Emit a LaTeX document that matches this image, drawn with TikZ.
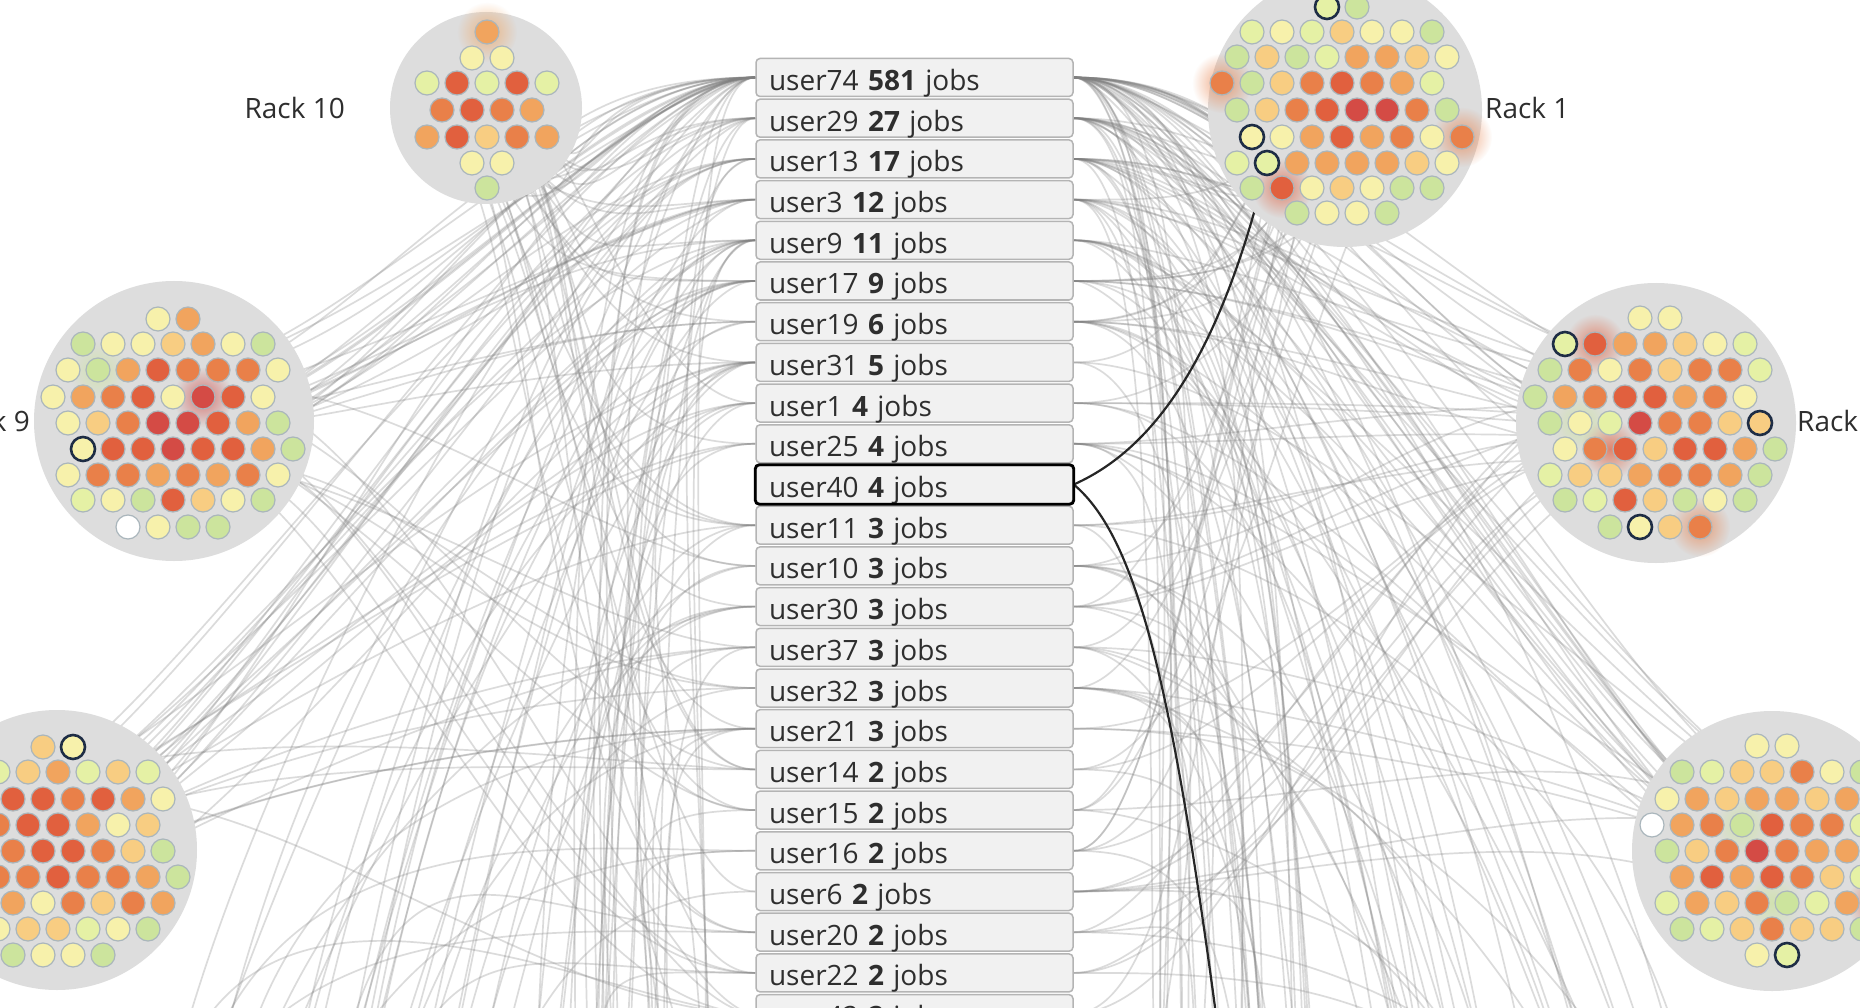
\documentclass[tikz,border=0pt]{standalone}
\usepackage{fontspec}
\setmainfont{Open Sans}
\usetikzlibrary{calc,backgrounds,fadings}

\definecolor{cR}{HTML}{D44B45}
\definecolor{cr}{HTML}{E1603E}
\definecolor{cO}{HTML}{E98049}
\definecolor{co}{HTML}{F1A45E}
\definecolor{cY}{HTML}{F8CD82}
\definecolor{cy}{HTML}{F7F1AB}
\definecolor{cg}{HTML}{E5F1A5}
\definecolor{cG}{HTML}{CCE49D}
\definecolor{cW}{HTML}{FFFFFF}
\definecolor{rackgray}{HTML}{DDDDDD}
\definecolor{dotrim}{HTML}{AAB6BC}
\definecolor{navyc}{HTML}{1E2D45}
\definecolor{boxfill}{HTML}{F1F1F1}
\definecolor{boxline}{HTML}{B4B4B4}
\definecolor{textc}{HTML}{2E2E2E}

\tikzset{
  userbox/.style={draw=boxline, fill=boxfill, line width=1.5pt, rounded corners=4pt,
    minimum height=38pt, text width=291pt, text height=30pt, text depth=4pt,
    inner xsep=13pt, inner ysep=0pt,
    align=left, text=textc, font=\fontsize{28}{32}\selectfont},
  racklabel/.style={inner sep=0pt, text=textc, font=\fontsize{28}{32}\selectfont},
  rackdisc/.style={fill=rackgray},
  rackdot/.style={draw=dotrim, line width=1.2pt},
  jobring/.style={draw=navyc, line width=2.6pt},
  link/.style={draw=black!50, opacity=.28, line width=1.7pt},
  sellink/.style={draw=black!85, line width=2.2pt}
}
\tikzfading[name=glowfade, inner color=transparent!30, outer color=transparent!100]

% one row of a rack, dots 30 apart
\newcommand{\dotrow}[3]{%
  \foreach \col [count=\k from 0] in {#3}
    \filldraw[rackdot, fill=c\col] ({#1+30*\k}, #2) circle (12);}
\newcommand{\glow}[3]{\fill[#1, path fading=glowfade] (#2,#3) circle (30);}
\newcommand{\ringdot}[2]{\draw[jobring] (#1,#2) circle (12);}

% rack data: centre, handle of the link end, spread of the link ends
\def\rackx{{0,486,1345,174,1656,57,1772,300,620,1230,1550}}
\def\handx{{0,90,-90,180,-180,180,-180,60,20,-20,-60}}
\def\handy{{0,140,140,-20,-20,-100,-100,-350,-400,-400,-350}}
\def\spread{{0,40,50,50,50,50,50,150,100,100,150}}

\begin{document}
\begin{tikzpicture}[x=1pt,y=-1pt]
  \useasboundingbox (0,0) rectangle (1860,1008);
  % rack centres (7-10 lie below the picture)
  \coordinate (rk1) at (486,108);
  \coordinate (rk2) at (1345,110);
  \coordinate (rk3) at (174,421);
  \coordinate (rk4) at (1656,423);
  \coordinate (rk5) at (57,850);
  \coordinate (rk6) at (1772,851);
  \coordinate (rk7) at (300,1250);
  \coordinate (rk8) at (620,1300);
  \coordinate (rk9) at (1230,1300);
  \coordinate (rk10) at (1550,1250);
  \coordinate (job1) at (1267,163);
  \coordinate (job2) at (1222,1060);

  % Draw user list
  \foreach \u/\n [count=\i from 0] in {74/581,29/27,13/17,3/12,9/11,17/9,19/6,31/5,1/4,25/4,40/4,
      11/3,10/3,30/3,37/3,32/3,21/3,14/2,15/2,16/2,6/2,20/2,22/2,42/2}
    \node[userbox] (box\i) at (914.5,{77.5+40.7*\i}) {user\u\ \textbf{\n} jobs};
  \draw[black, line width=2.8pt, rounded corners=4pt] (box10.south west) rectangle (box10.north east);

  % Draw links from users to racks
  \begin{pgfonlayer}{background}
    \fill[white] (0,0) rectangle (1860,1008);
    \pgfmathsetseed{1860}
    \foreach \i/\n in {0/70,1/26,2/22,3/20,4/20,5/17,6/14,7/13,8/11,9/11,11/10,12/10,13/10,14/10,15/10,
        16/10,17/8,18/8,19/8,20/8,21/8,22/8,23/8} {
      \foreach \k in {1,...,\n} {
        \pgfmathrandominteger{\t}{1}{10}
        \pgfmathsetmacro{\hx}{\handx[\t]}
        \pgfmathsetmacro{\hy}{\handy[\t]}
        \pgfmathsetmacro{\jx}{rand*\spread[\t]}
        \pgfmathsetmacro{\jy}{rand*\spread[\t]}
        \pgfmathsetmacro{\len}{90+rnd*160}
        \pgfmathsetmacro{\side}{\rackx[\t]<915 ? -1 : 1}
        \ifdim\side pt<0pt \def\anc{west}\else\def\anc{east}\fi
        \draw[link] (box\i.\anc) .. controls +(\side*\len,0) and +(\hx,\hy) .. ($(rk\t)+(\jx,\jy)$);
      }
    }
    % links of the selected user
    \draw[sellink] (box10.east) .. controls (1140,455) and (1215,380) .. (job1);
    \draw[sellink] (box10.east) .. controls (1140,540) and (1175,700) .. (job2);
  \end{pgfonlayer}

  % Rack 10
  \fill[rackdisc] (rk1) circle (96);
  \glow{co}{487}{32}
  \dotrow{487}{32}{o}
  \dotrow{472}{58}{y,y}
  \dotrow{427}{83}{g,r,g,r,g}
  \dotrow{442}{110}{O,r,O,o}
  \dotrow{427}{137}{o,r,Y,O,o}
  \dotrow{472}{163}{y,y}
  \dotrow{487}{188}{G}

  % Rack 1
  \fill[rackdisc] (rk2) circle (137);
  \glow{cO}{1222}{83} \glow{cO}{1462}{137} \glow{cr}{1282}{188}
  \dotrow{1327}{7}{g,G}
  \dotrow{1252}{32}{g,y,g,Y,y,y,G}
  \dotrow{1237}{57}{G,Y,G,g,o,o,Y,y}
  \dotrow{1222}{83}{O,G,Y,O,r,O,o,g}
  \dotrow{1237}{110}{G,Y,O,r,R,R,O,G}
  \dotrow{1252}{137}{y,y,o,r,o,O,y,O}
  \dotrow{1237}{163}{g,g,o,o,o,o,Y,y}
  \dotrow{1252}{188}{G,r,y,Y,y,G,G}
  \dotrow{1297}{213}{G,y,y,G}
  \ringdot{1327}{7} \ringdot{1252}{137} \ringdot{1267}{163}

  % Rack 9
  \fill[rackdisc] (rk3) circle (140);
  \glow{cG}{98}{370} \glow{cR}{203}{397}
  \dotrow{158}{319}{y,o}
  \dotrow{83}{344}{G,y,y,Y,o,y,G}
  \dotrow{68}{370}{y,G,o,r,O,O,O,y}
  \dotrow{53}{397}{y,o,O,r,y,R,r,y}
  \dotrow{68}{423}{y,Y,O,R,R,r,o,G}
  \dotrow{83}{449}{y,r,r,R,r,r,o,G}
  \dotrow{68}{475}{y,O,O,o,O,o,O,y}
  \dotrow{83}{500}{g,y,G,r,Y,y,G}
  \dotrow{128}{527}{W,y,G,G}
  \ringdot{83}{449}

  % right middle rack
  \fill[rackdisc] (rk4) circle (140);
  \glow{cr}{1595}{344} \glow{cr}{1610}{449} \glow{cO}{1700}{527} \glow{cG}{1580}{423}
  \dotrow{1640}{318}{y,y}
  \dotrow{1565}{344}{g,r,o,o,Y,y,g}
  \dotrow{1550}{370}{G,O,y,O,Y,O,O,g}
  \dotrow{1535}{397}{G,o,O,r,r,o,O,y}
  \dotrow{1550}{423}{G,y,g,R,O,O,Y,Y}
  \dotrow{1565}{449}{y,O,r,Y,r,r,o,G}
  \dotrow{1550}{475}{g,Y,Y,o,O,O,o,G}
  \dotrow{1565}{500}{G,g,r,Y,G,y,G}
  \dotrow{1610}{527}{G,y,Y,O}
  \ringdot{1565}{344} \ringdot{1760}{423} \ringdot{1640}{527}

  % bottom left rack
  \fill[rackdisc] (rk5) circle (140);
  \dotrow{43}{747}{Y,y}
  \dotrow{-32}{772}{g,g,Y,o,g,Y,g}
  \dotrow{-47}{799}{O,O,r,r,O,r,o,y}
  \dotrow{-62}{825}{o,O,O,r,r,o,y,Y}
  \dotrow{-47}{851}{o,O,O,r,r,O,Y,G}
  \dotrow{-32}{877}{O,O,O,r,O,O,o,G}
  \dotrow{-47}{903}{y,o,o,y,O,Y,O,o}
  \dotrow{-32}{929}{g,y,Y,Y,g,y,G}
  \dotrow{13}{955}{G,y,y,G}
  \ringdot{73}{747}

  % bottom right rack
  \fill[rackdisc] (rk6) circle (140);
  \glow{cG}{1742}{825} \glow{cG}{1772}{903} \glow{cr}{1877}{903}
  \dotrow{1757}{746}{y,y}
  \dotrow{1682}{772}{G,g,Y,Y,O,y,G}
  \dotrow{1667}{799}{y,o,Y,o,o,Y,o,o}
  \dotrow{1652}{825}{W,o,O,G,r,O,O,g}
  \dotrow{1667}{851}{G,Y,O,R,O,o,o,g}
  \dotrow{1682}{877}{o,r,o,r,O,Y,g,G}
  \dotrow{1667}{903}{g,o,Y,O,G,g,o,r}
  \dotrow{1682}{929}{G,g,Y,O,Y,Y,G}
  \dotrow{1757}{955}{y,g}
  \ringdot{1787}{955}

  % rack labels
  \node[racklabel, anchor=east] (lab10) at (345,108) {Rack 10};
  \node[racklabel, anchor=west] (lab1) at (1485,108) {Rack 1};
  \node[racklabel, anchor=east] (lab9) at (30,421) {Rack 9};
  \node[racklabel, anchor=west] (labR) at (1797,421) {Rack};
\end{tikzpicture}
\end{document}
